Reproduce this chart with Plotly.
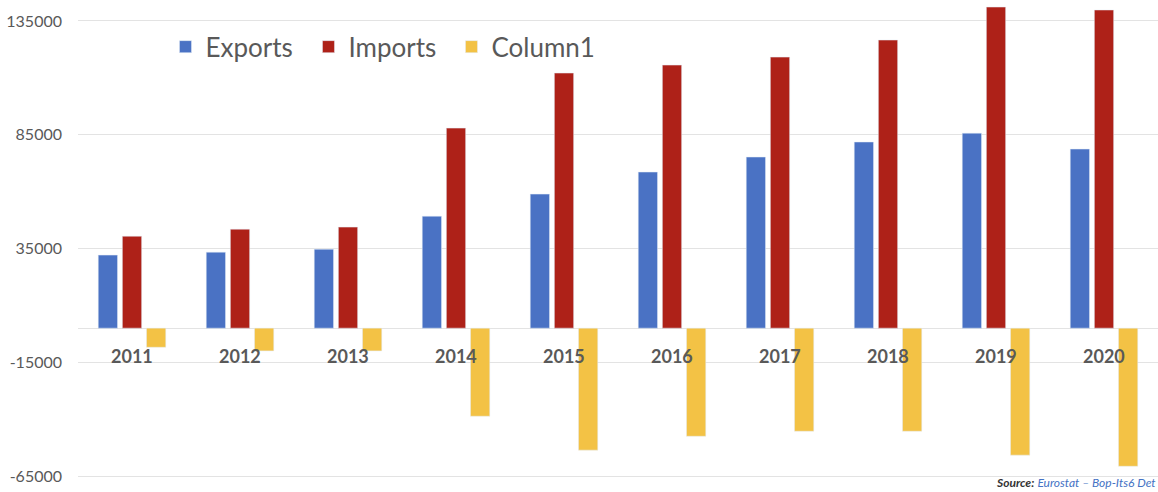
import plotly.graph_objects as go

years = ["2011", "2012", "2013", "2014", "2015", "2016", "2017", "2018", "2019", "2020"]
exports = [32100, 33400, 34700, 49200, 58900, 68600, 75200, 81800, 85700, 78700]
imports = [40400, 43500, 44400, 87900, 112100, 115600, 119100, 126600, 141100, 139800]
column1 = [-8400, -10000, -10000, -38700, -53600, -47500, -45300, -45300, -55800, -60700]
ytick_vals = [135000, 85000, 35000, -15000, -65000]
ytick_text = ["135000", "85000", "35000", "-15000", "-65000"]

fig = go.Figure()
fig.add_trace(go.Bar(name="Exports", x=years, y=exports, marker_color="#4A72C4"))
fig.add_trace(go.Bar(name="Imports", x=years, y=imports, marker_color="#AE2118"))
fig.add_trace(go.Bar(name="Column1", x=years, y=column1, marker_color="#F3C245"))

for i, yr in enumerate(years):
    fig.add_annotation(x=i, y=0, xref="x", yref="y", text="<b>%s</b>" % yr,
                       showarrow=False, yanchor="top", yshift=-15,
                       font=dict(family="Lato", size=18, color="#595959"))

fig.add_annotation(x=1, y=0, xref="paper", yref="paper", xanchor="right", yanchor="bottom",
                   text="<b><i>Source:</i></b> <i><span style='color:#4472C4'>Eurostat – Bop-Its6 Det</span></i>",
                   showarrow=False, font=dict(family="Lato", size=12, color="#333333"))

fig.update_layout(
    width=1158, height=492,
    margin=dict(l=78, r=0, t=0, b=0),
    paper_bgcolor="white", plot_bgcolor="white",
    barmode="group", bargap=0.33, bargroupgap=0.2,
    showlegend=True,
    legend=dict(orientation="h", x=0.081, y=0.905, xanchor="left", yanchor="middle",
                font=dict(family="Lato", size=26, color="#595959"),
                entrywidth=98, entrywidthmode="pixels",
                itemwidth=30, bgcolor="rgba(0,0,0,0)"),
    xaxis=dict(type="category", showticklabels=False, showgrid=False, zeroline=False,
               showline=False, range=[-0.5, 9.5]),
    yaxis=dict(range=[-72000, 144200], tickvals=ytick_vals, ticktext=ytick_text,
               showgrid=True, gridcolor="#E3E3E3", gridwidth=1,
               zeroline=True, zerolinecolor="#E3E3E3", zerolinewidth=1,
               showline=False, ticks="", ticklabelstandoff=15,
               tickfont=dict(family="Lato", size=16, color="#595959")),
)

fig.write_html("out.html", config={"displayModeBar": False},
               post_script="document.body.style.margin='0';")
